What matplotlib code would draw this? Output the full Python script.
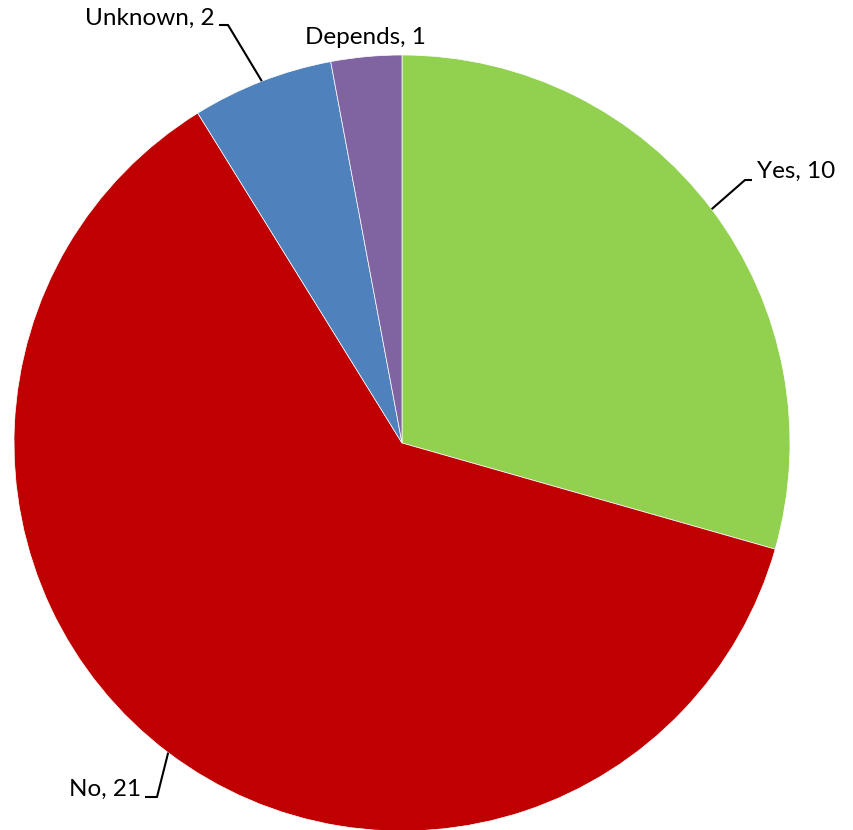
import numpy as np
import matplotlib.pyplot as plt

plt.rcParams['font.family'] = ['Lato', 'DejaVu Sans']

labels = ['Yes', 'No', 'Unknown', 'Depends']
counts = [10, 21, 2, 1]
colors = ['#92D050', '#C00000', '#4F81BD', '#8064A2']

W, H = 854, 830
cx, cy, R = 402, 443, 388

fig = plt.figure(figsize=(W / 100, H / 100), dpi=100)
ax = fig.add_axes([(cx - R) / W, (H - cy - R) / H, 2 * R / W, 2 * R / H])
wedges, _ = ax.pie(counts, colors=colors, startangle=90, counterclock=False,
                   radius=1, wedgeprops=dict(edgecolor='white', linewidth=0.5))
ax.set_xlim(-1, 1)
ax.set_ylim(-1, 1)
ax.set_aspect('equal')
ax.axis('off')


def px(x, y):
    # pixel position in the figure -> data coordinates of the pie axes
    return (x - cx) / R, (cy - y) / R


def edge_point(w):
    a = np.deg2rad((w.theta1 + w.theta2) / 2)
    return np.cos(a), np.sin(a)


# label text: pixel anchor, alignment, leader knee and end (None for no leader)
layout = {
    'Yes': ((757, 171), 'left', [(745, 180), (752, 180)]),
    'No': ((141, 789), 'right', [(157, 797), (145, 797)]),
    'Unknown': ((215, 18), 'right', [(228, 25), (219, 25)]),
    'Depends': ((365, 37), 'center', None),
}

for w, lab, n in zip(wedges, labels, counts):
    (tx, ty), ha, leader = layout[lab]
    ax.text(*px(tx, ty), f'{lab}, {n}', ha=ha, va='center', fontsize=17.5,
            color='#000000', clip_on=False)
    if leader:
        pts = [edge_point(w)] + [px(*p) for p in leader]
        xs, ys = zip(*pts)
        ax.plot(xs, ys, color='black', lw=1.5, clip_on=False,
                solid_capstyle='butt')

fig.savefig('out.png', dpi=100)
